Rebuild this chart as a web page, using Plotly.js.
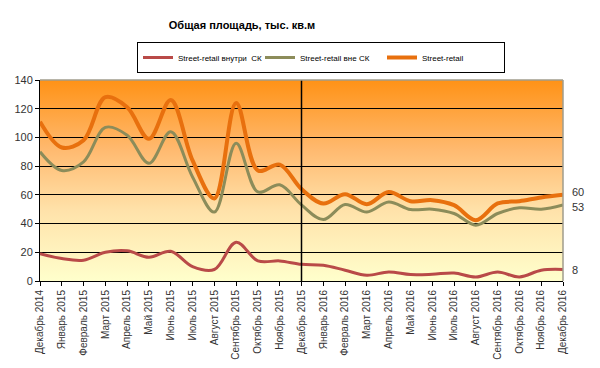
<!DOCTYPE html>
<html>
<head>
<meta charset="utf-8">
<script src="https://cdn.plot.ly/plotly-3.0.1.min.js"></script>
<style>html,body{margin:0;padding:0;background:#fff;}#chart{width:600px;height:368px;}</style>
</head>
<body>
<div id="chart"></div>
<script>
const months = ["Декабрь 2014","Январь 2015","Февраль 2015","Март 2015","Апрель 2015","Май 2015","Июнь 2015","Июль 2015","Август 2015","Сентябрь 2015","Октябрь 2015","Ноябрь 2015","Декабрь 2015","Январь 2016","Февраль 2016","Март 2016","Апрель 2016","Май 2016","Июнь 2016","Июль 2016","Август 2016","Сентябрь 2016","Октябрь 2016","Ноябрь 2016","Декабрь 2016"];
const seriesNames = ["Street-retail внутри  СК","Street-retail вне СК","Street-retail"];
const insideSK  = [19,15.6,14.5,20,21,16.5,20.7,10,8,27,14,14,11.6,11,7.5,4,6.3,4.5,4.7,5.6,2.8,6.3,2.8,7.5,8];
const outsideSK = [90,77,83,107,101.5,82,104,72.5,48,96,62,67,53,42.8,53.3,48,55,49.8,50,47,38.9,47,51,50,53];
const total     = [111,93,98,128,121,99,126,84,57.5,124,77,81,64,54,60.5,53.5,62,55.6,56.3,52.8,42.4,54,55.6,58.2,60];
const splitMonth = "Декабрь 2015";

const colors = ["#B94A48","#8C8C5A","#E8700E"];
const widths = [3,3,4];
const labelShift = [0,-2,3];
const allSeries = [insideSK, outsideSK, total];

const traces = allSeries.map((vals,k)=>({
  type:"scatter", mode:"lines", x:months, y:vals, name:seriesNames[k],
  line:{color:colors[k], width:widths[k], shape:"spline", smoothing:1},
  hoverinfo:"x+y"
}));
const font = "Arial, 'Liberation Sans', sans-serif";

const svg = '<svg xmlns="http://www.w3.org/2000/svg" width="100" height="100" preserveAspectRatio="none">' +
  '<defs><linearGradient id="g" x1="0" y1="0" x2="0" y2="1">' +
  '<stop offset="0" stop-color="#FF9216"/>' +
  '<stop offset="0.35" stop-color="#FFBA70"/>' +
  '<stop offset="0.65" stop-color="#FFE2AA"/>' +
  '<stop offset="1" stop-color="#FFFFCC"/>' +
  '</linearGradient></defs><rect width="100" height="100" fill="url(#g)"/></svg>';
const bg = "data:image/svg+xml;charset=utf-8," + encodeURIComponent(svg);

const last = months.length-1;
const annotations = allSeries.map((vals,k)=>({
  x: months[last], y: vals[last], xref:"x", yref:"y",
  text: String(vals[last]), showarrow:false, xanchor:"left", xshift:7, yshift:labelShift[k],
  font:{family:font, size:11, color:"#333"}
}));

const layout = {
  width:600, height:368,
  margin:{l:40, r:37, t:80, b:87},
  paper_bgcolor:"#fff", plot_bgcolor:"rgba(0,0,0,0)",
  font:{family:font, color:"#333"},
  title:{text:"<b>Общая площадь, тыс. кв.м</b>", x:242/600, xanchor:"center", xref:"container", y:1-25/368, yanchor:"middle", yref:"container", font:{family:font, size:11, color:"#000"}},
  showlegend:true,
  legend:{orientation:"h", xref:"container", yref:"container", x:137/600, xanchor:"left", y:1-42/368, yanchor:"top",
    bordercolor:"#000", borderwidth:1, bgcolor:"#fff", font:{family:font, size:8, color:"#000"},
    itemwidth:30, entrywidth:77, tracegroupgap:0},
  xaxis:{type:"category", range:[0,last], showgrid:false, zeroline:false,
    showline:true, linecolor:"#000", linewidth:1,
    ticks:"outside", ticklen:4, tickcolor:"#000", tickangle:-90,
    tickfont:{family:font, size:10, color:"#333"}, fixedrange:true},
  yaxis:{range:[0,140], dtick:20, showgrid:true, gridcolor:"#000", gridwidth:1, zeroline:false,
    showline:true, linecolor:"#000", linewidth:1,
    ticks:"outside", ticklen:4, tickcolor:"#000",
    tickfont:{family:font, size:11, color:"#333"}, fixedrange:true},
  images:[{source:bg, xref:"paper", yref:"paper", x:0, y:1, sizex:1, sizey:1, sizing:"stretch", layer:"below", xanchor:"left", yanchor:"top"}],
  shapes:[
    {type:"line", xref:"x", yref:"paper", x0:splitMonth, x1:splitMonth, y0:0, y1:1, line:{color:"#000", width:1.5}},
    {type:"line", xref:"paper", yref:"paper", x0:0, x1:1, y0:1, y1:1, line:{color:"#A09C8C", width:1.5}},
    {type:"line", xref:"paper", yref:"paper", x0:1, x1:1, y0:0, y1:1, line:{color:"#A09C8C", width:1.5}}
  ],
  annotations:annotations
};
Plotly.newPlot("chart", traces, layout, {displayModeBar:false, staticPlot:true});
</script>
</body>
</html>
